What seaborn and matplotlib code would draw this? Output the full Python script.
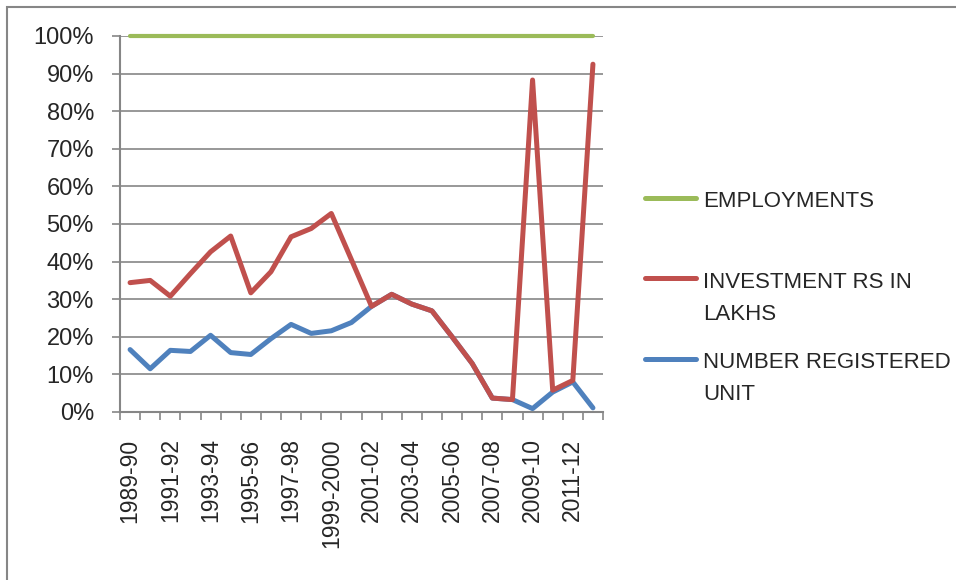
import numpy as np
import pandas as pd
import matplotlib.pyplot as plt
import matplotlib.ticker as mticker
from matplotlib.lines import Line2D
from matplotlib.patches import Rectangle
import seaborn as sns

years = ["1989-90", "1990-91", "1991-92", "1992-93", "1993-94", "1994-95",
         "1995-96", "1996-97", "1997-98", "1998-99", "1999-2000", "2000-01",
         "2001-02", "2002-03", "2003-04", "2004-05", "2005-06", "2006-07",
         "2007-08", "2008-09", "2009-10", "2010-11", "2011-12", "2012-13"]

# values as shown on the chart (percent)
number_registered = [16.6, 11.5, 16.4, 16.1, 20.4, 15.8, 15.3, 19.5, 23.3, 20.9, 21.6, 23.8,
                     28.1, 31.3, 28.7, 26.9, 20.0, 12.9, 3.7, 3.3, 0.9, 5.3, 8.0, 1.1]
investment = [34.4, 35.0, 30.8, 36.8, 42.6, 46.8, 31.7, 37.3, 46.6, 48.8, 52.8, 40.5,
              28.1, 31.3, 28.7, 26.9, 20.0, 12.9, 3.7, 3.3, 88.3, 5.8, 8.4, 92.5]
employments = [100, 100, 100, 100, 100, 100, 100, 100, 100, 100, 100, 100,
               100, 100, 100, 100, 100, 100, 100, 100, 100, 100, 100, 100]

series_names = ["NUMBER REGISTERED UNIT", "INVESTMENT RS IN LAKHS", "EMPLOYMENTS"]
colors = ["#4F81BD", "#C0504D", "#9BBB59"]
legend_text = [["EMPLOYMENTS"], ["INVESTMENT RS IN", "LAKHS"], ["NUMBER REGISTERED", "UNIT"]]

df = pd.DataFrame({
    "year": years * 3,
    "value": np.array(number_registered + investment + employments) / 100,
    "series": [series_names[0]] * 24 + [series_names[1]] * 24 + [series_names[2]] * 24,
})

sns.set_style("white")
plt.rcParams['font.family'] = ['Liberation Sans', 'DejaVu Sans']

grey = "#868686"
W, H = 956, 580
fig = plt.figure(figsize=(W / 100, H / 100), dpi=100)
ax = fig.add_axes([120 / W, 1 - 412 / H, 483 / W, 376 / H])

sns.lineplot(data=df, x="year", y="value", hue="series", hue_order=series_names,
             palette=colors, linewidth=3.6, errorbar=None, legend=False, ax=ax)
for ln in ax.lines:
    ln.set_solid_capstyle("round")
    ln.set_solid_joinstyle("round")
    ln.set_clip_on(False)
ax.lines[2].set_linewidth(3.0)

ax.set_xlim(-0.5, 23.5)
ax.set_ylim(0, 1)
ax.set_xlabel("")
ax.set_ylabel("")

ax.set_yticks(np.arange(0, 1.01, 0.1))
ax.yaxis.set_major_formatter(mticker.PercentFormatter(1.0, decimals=0))
ax.yaxis.grid(True, color=grey, linewidth=1.2)
ax.set_axisbelow(True)
ax.tick_params(axis="y", length=5.8, width=1.2, color=grey, pad=13, labelsize=17, left=True)

ax.set_xticks(range(0, 24, 2))
ax.set_xticklabels(years[::2], rotation=90)
ax.set_xticks(np.arange(-0.5, 24, 1), minor=True)
ax.tick_params(axis="x", which="major", length=0, pad=19, labelsize=16.5)
ax.tick_params(axis="x", which="minor", length=5.8, width=1.2, color=grey, bottom=True)

for s in ["top", "right"]:
    ax.spines[s].set_visible(False)
for s in ["left", "bottom"]:
    ax.spines[s].set_color(grey)
    ax.spines[s].set_linewidth(1.5)

# chart area border (runs off the right and bottom edge)
fig.add_artist(Rectangle((7 / W, -0.1), 1.2, 1.1 - 7 / H, transform=fig.transFigure,
                         fill=False, edgecolor=grey, linewidth=1.5))

# legend drawn by hand so the key lines sit on the first text line
legend_colors = [colors[2], colors[1], colors[0]]
key_y = [198, 278, 359]
baselines = [[207], [288, 320], [368, 400]]
for col, ky, lines, bls in zip(legend_colors, key_y, legend_text, baselines):
    fig.add_artist(Line2D([645 / W, 696 / W], [1 - ky / H] * 2, transform=fig.transFigure,
                          color=col, linewidth=3.6, solid_capstyle="round"))
    for txt, b in zip(lines, bls):
        fig.text(703 / W, 1 - b / H, txt, ha="left", va="baseline", fontsize=16)

fig.savefig("out.png", dpi=100)
